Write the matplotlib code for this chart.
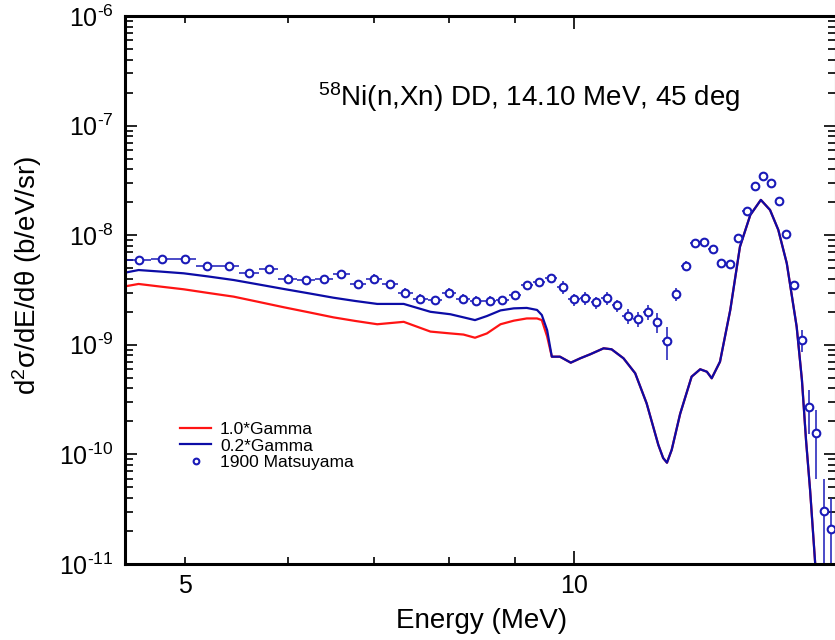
import numpy as np
import matplotlib
matplotlib.use("Agg")
import matplotlib.pyplot as plt
from matplotlib.ticker import FixedLocator, NullFormatter, FuncFormatter

plt.rcParams['font.family'] = ['Liberation Sans', 'DejaVu Sans']
plt.rcParams['mathtext.fontset'] = 'custom'
plt.rcParams['mathtext.rm'] = 'Liberation Sans'
plt.rcParams['mathtext.it'] = 'Liberation Sans:italic'

# --- calculated spectra (energy in MeV, d2sigma in b/eV/sr) ---
e_low = [4.507, 4.60, 4.78, 4.985, 5.21, 5.45, 5.70, 5.96, 6.23, 6.51, 6.77, 7.04,
         7.38, 7.74, 8.02, 8.21, 8.38, 8.56, 8.77, 8.98, 9.19, 9.36, 9.44, 9.53]
red_low = [3.44e-9, 3.59e-9, 3.40e-9, 3.21e-9, 2.97e-9, 2.75e-9, 2.46e-9, 2.20e-9,
           1.98e-9, 1.78e-9, 1.65e-9, 1.54e-9, 1.62e-9, 1.32e-9, 1.27e-9, 1.24e-9,
           1.16e-9, 1.27e-9, 1.54e-9, 1.66e-9, 1.74e-9, 1.74e-9, 1.68e-9, 1.19e-9]
blue_low = [4.59e-9, 4.81e-9, 4.66e-9, 4.49e-9, 4.20e-9, 3.90e-9, 3.55e-9, 3.23e-9,
            2.95e-9, 2.69e-9, 2.51e-9, 2.36e-9, 2.36e-9, 2.00e-9, 1.90e-9, 1.78e-9,
            1.68e-9, 1.83e-9, 2.06e-9, 2.15e-9, 2.17e-9, 2.08e-9, 1.87e-9, 1.36e-9]

# above ~9.6 MeV both widths give the same curve
e_high = [9.61, 9.75, 9.94, 10.11, 10.29, 10.54, 10.69, 10.92, 11.15, 11.38, 11.62,
          11.72, 11.80, 11.90, 12.08, 12.33, 12.52, 12.67, 12.78, 12.97, 13.21, 13.44,
          13.69, 13.95, 14.18, 14.39, 14.61, 14.87, 15.01, 15.12, 15.23, 15.37, 15.45]
sig_high = [7.79e-10, 7.79e-10, 6.87e-10, 7.53e-10, 8.19e-10, 9.29e-10, 9.10e-10,
            7.53e-10, 5.50e-10, 2.92e-10, 1.22e-10, 9.27e-11, 8.40e-11, 1.10e-10,
            2.34e-10, 5.12e-10, 5.98e-10, 5.68e-10, 4.95e-10, 7.01e-10, 2.08e-9,
            7.85e-9, 1.53e-8, 2.10e-8, 1.70e-8, 1.12e-8, 5.54e-9, 1.46e-9, 4.77e-10,
            1.35e-10, 4.73e-11, 1.0e-11, 3.8e-12]

# --- measured data, 1900 Matsuyama ---
e_exp = [4.6, 4.8, 5.0, 5.2, 5.4, 5.6, 5.8, 6.0, 6.2, 6.4, 6.6, 6.8, 7.0, 7.2, 7.4,
         7.6, 7.8, 8.0, 8.2, 8.4, 8.6, 8.8, 9.0, 9.2, 9.4, 9.6, 9.8, 10.0, 10.2, 10.4,
         10.6, 10.8, 11.0, 11.2, 11.4, 11.6, 11.8, 12.0, 12.2, 12.4, 12.6, 12.8, 13.0,
         13.2, 13.4, 13.6, 13.8, 14.0, 14.2, 14.4, 14.6, 14.8, 15.0, 15.2, 15.4, 15.6,
         15.8]
sig_exp = [5.94e-9, 6.07e-9, 6.07e-9, 5.27e-9, 5.27e-9, 4.55e-9, 4.92e-9, 4.01e-9,
           3.88e-9, 3.96e-9, 4.40e-9, 3.56e-9, 4.01e-9, 3.56e-9, 2.97e-9, 2.62e-9,
           2.55e-9, 2.97e-9, 2.62e-9, 2.51e-9, 2.51e-9, 2.55e-9, 2.83e-9, 3.49e-9,
           3.72e-9, 4.03e-9, 3.37e-9, 2.60e-9, 2.67e-9, 2.44e-9, 2.67e-9, 2.29e-9,
           1.83e-9, 1.72e-9, 2.00e-9, 1.61e-9, 1.09e-9, 2.89e-9, 5.27e-9, 8.49e-9,
           8.67e-9, 7.48e-9, 5.61e-9, 5.50e-9, 9.43e-9, 1.65e-8, 2.83e-8, 3.49e-8,
           3.01e-8, 2.04e-8, 1.03e-8, 3.54e-9, 1.11e-9, 2.69e-10, 1.58e-10, 3.06e-11,
           2.07e-11]
rel_err = [8, 8, 8, 8, 8, 8, 8, 10, 10, 10, 10, 10, 10, 10, 10, 10, 10, 10, 10, 10,
           10, 10, 10, 10, 10, 10, 13, 13, 13, 13, 13, 13, 16, 16, 16, 20, 34, 14, 10,
           8, 8, 8, 8, 8, 8, 8, 8, 8, 8, 8, 8, 8, 22, 43, 62, 95, 95]  # percent
e_err = 0.1  # MeV

y_decades = [-11, -10, -9, -8, -7, -6]

RED = '#ff1414'
BLUE = '#0c0ca6'
MARK = '#1a1ab8'

fig = plt.figure(figsize=(8.35, 6.4), dpi=100)
ax = fig.add_axes([125/835, 76/640, 711/835, 548/640])

red_e = e_low + e_high
red_s = red_low + sig_high
blue_e = e_low + e_high
blue_s = blue_low + sig_high

l1, = ax.plot(red_e, red_s, color=RED, lw=1.6, label='1.0*Gamma')
l2, = ax.plot(blue_e, blue_s, color=BLUE, lw=1.6, label='0.2*Gamma')

sig_exp = np.array(sig_exp)
yerr = sig_exp * np.array(rel_err) / 100.0
ax.errorbar(e_exp, sig_exp, xerr=e_err, yerr=yerr, fmt='none', ecolor=MARK,
            elinewidth=1.1, capsize=0)
l3, = ax.plot(e_exp, sig_exp, 'o', ms=5.5, mfc='white', mec=MARK, mew=1.5,
              label='1900 Matsuyama')

ax.set_xscale('log')
ax.set_yscale('log')
ax.set_xlim(4.49, 15.95)
ax.set_ylim(1e-11, 1e-6)

ax.xaxis.set_major_locator(FixedLocator([10]))
ax.xaxis.set_minor_locator(FixedLocator([5, 6, 7, 8, 9]))
ax.xaxis.set_major_formatter(FuncFormatter(lambda v, p: '%d' % v))
ax.xaxis.set_minor_formatter(FuncFormatter(lambda v, p: '5' if abs(v - 5) < 1e-6 else ''))

y_major = [10.0 ** d for d in y_decades]
y_minor = [m * 10.0 ** d for d in y_decades[:-1] for m in range(2, 10)]
ax.yaxis.set_major_locator(FixedLocator(y_major))
ax.yaxis.set_minor_locator(FixedLocator(y_minor))
ax.yaxis.set_major_formatter(FuncFormatter(
    lambda v, p: '$\\mathdefault{10^{\u2010%d}}$' % abs(round(np.log10(v)))))
ax.yaxis.set_minor_formatter(NullFormatter())

ax.tick_params(which='both', direction='in', top=True, right=True, labelsize=18, width=1.2)
ax.tick_params(axis='y', which='major', length=8.5, pad=8)
ax.tick_params(axis='y', which='minor', length=5.5)
ax.tick_params(axis='x', which='major', length=9.5, pad=7)
ax.tick_params(axis='x', which='minor', length=5, pad=7)
for s in ax.spines.values():
    s.set_linewidth(2.2)

ax.set_xlabel('Energy (MeV)', fontsize=20)
ax.xaxis.set_label_coords(0.502, -0.080)
ax.set_ylabel(r'd$^2$σ/dE/dθ (b/eV/sr)', fontsize=20)
ax.yaxis.set_label_coords(-0.114, 0.526)

ax.text(0.2714, 0.8358, r'$^{58}$Ni(n,Xn) DD, 14.10 MeV, 45 deg', transform=ax.transAxes,
        fontsize=20, va='baseline', ha='left')

ax.legend(handles=[l1, l2, l3], loc='upper left', bbox_to_anchor=(0.0774, 0.26),
          frameon=False, fontsize=12.5, handlelength=1.8, handletextpad=0.5,
          labelspacing=0.1, borderpad=0, borderaxespad=0, markerscale=0.75)

fig.savefig('out.png', dpi=100)
